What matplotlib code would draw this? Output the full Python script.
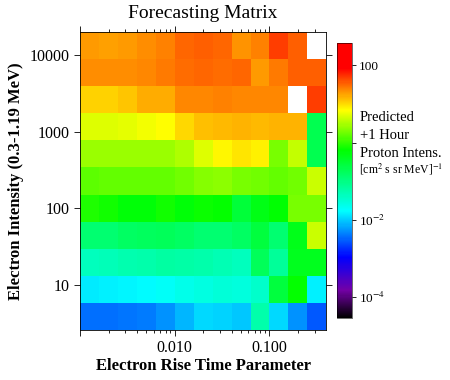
import numpy as np
import matplotlib
matplotlib.use("Agg")
import matplotlib.pyplot as plt
from matplotlib.colors import LinearSegmentedColormap, LogNorm

plt.rcParams["font.family"] = ["Liberation Serif", "DejaVu Serif"]
plt.rcParams["mathtext.fontset"] = "stix"

# bin edges of the forecasting matrix
rise_edges = np.logspace(-3, -0.4, 14)          # electron rise time parameter
intens_edges = np.logspace(0.415, 4.296, 12)    # electron intensity

# log10 of predicted +1 hour proton intensity, top row (highest intensity) first
nan = np.nan
log_flux = [
    [1.29, 1.27, 1.29, 1.34, 1.40, 1.51, 1.55, 1.51, 1.31, 1.40, 1.68, 1.55, nan],
    [1.34, 1.34, 1.34, 1.38, 1.42, 1.47, 1.51, 1.49, 1.51, 1.29, 1.42, 1.55, 1.55],
    [1.04, 1.04, 1.10, 1.19, 1.21, 1.36, 1.38, 1.40, 1.38, 1.38, 1.38, nan, 1.68],
    [0.70, 0.70, 0.74, 0.78, 0.84, 1.02, 1.12, 1.14, 1.17, 1.14, 1.17, 1.17, -0.69],
    [0.42, 0.42, 0.42, 0.42, 0.42, 0.50, 0.70, 0.86, 0.95, 0.89, 0.29, 0.58, -0.69],
    [0.17, 0.21, 0.21, 0.19, 0.21, 0.25, 0.33, 0.37, 0.29, 0.25, 0.21, 0.25, 0.62],
    [-0.07, -0.12, -0.24, -0.24, -0.12, -0.25, -0.16, -0.20, -0.55, -0.33, -0.22, 0.29, 0.29],
    [-0.87, -0.87, -0.81, -0.78, -0.75, -0.81, -0.87, -0.87, -0.81, -0.57, -0.87, -0.35, 0.62],
    [-1.36, -1.33, -1.27, -1.24, -1.18, -1.21, -1.24, -1.30, -1.36, -0.75, -1.12, -0.38, -0.38],
    [-1.86, -1.84, -1.81, -1.76, -1.73, -1.64, -1.58, -1.52, -1.55, -1.43, -0.57, -0.20, -1.84],
    [-2.45, -2.43, -2.40, -2.38, -2.26, -2.10, -1.95, -1.98, -2.03, -1.24, -1.93, -2.26, -2.55],
]

flux = np.ma.masked_invalid(10.0 ** np.array(log_flux)[::-1])

# IDL-like rainbow: black -> purple -> blue -> cyan -> green -> yellow -> red
cmap = LinearSegmentedColormap.from_list("idl_rainbow", [
    (0.00, (0.0, 0.0, 0.0)),
    (0.10, (0.45, 0.0, 0.65)),
    (0.22, (0.0, 0.0, 1.0)),
    (0.39, (0.0, 1.0, 1.0)),
    (0.61, (0.0, 1.0, 0.0)),
    (0.756, (1.0, 1.0, 0.0)),
    (0.836, (1.0, 0.5, 0.0)),
    (0.91, (1.0, 0.0, 0.0)),
    (1.00, (1.0, 0.0, 0.0)),
])
norm = LogNorm(vmin=10 ** -4.54, vmax=10 ** 2.58)

fig = plt.figure(figsize=(4.5, 3.8), dpi=100)
ax = fig.add_axes([0.178, 0.1316, 0.547, 0.784])
mesh = ax.pcolormesh(rise_edges, intens_edges, flux, cmap=cmap, norm=norm)

ax.set_xscale("log")
ax.set_yscale("log")
ax.set_xlim(rise_edges[0], rise_edges[-1])
ax.set_ylim(intens_edges[0], intens_edges[-1])

ax.set_xticks([0.001, 0.01, 0.1])
ax.set_xticklabels(["", "0.010", "0.100"])
ax.set_yticks([10, 100, 1000, 10000])
ax.set_yticklabels(["10", "100", "1000", "10000"])
ax.yaxis.set_minor_locator(matplotlib.ticker.NullLocator())
ax.tick_params(which="both", direction="out", top=True, right=True,
               labelsize=11.5, width=0.6)
ax.tick_params(which="major", length=4)
ax.tick_params(which="minor", length=2.5)
for s in ax.spines.values():
    s.set_linewidth(0.6)

ax.set_title("Forecasting Matrix", fontsize=14, pad=10)
ax.set_xlabel("Electron Rise Time Parameter", fontsize=12, fontweight="bold", labelpad=1)
ax.set_ylabel("Electron Intensity (0.3-1.19 MeV)", fontsize=12, fontweight="bold", labelpad=4)

# colour bar
cax = fig.add_axes([0.749, 0.163, 0.0333, 0.7245])
cb = fig.colorbar(mesh, cax=cax)
cb.set_ticks([1e2, 1, 1e-2, 1e-4])
cb.set_ticklabels(["100", "", r"10$^{-2}$", r"10$^{-4}$"])
cb.ax.minorticks_off()
cb.ax.tick_params(length=3, width=0.6, labelsize=9.5, pad=2)
cb.outline.set_linewidth(0.4)

fig.text(0.80, 0.69, "Predicted", fontsize=10.5, ha="left", va="center")
fig.text(0.80, 0.643, "+1 Hour", fontsize=10.5, ha="left", va="center")
fig.text(0.80, 0.597, "Proton Intens.", fontsize=10.5, ha="left", va="center")
fig.text(0.797, 0.555, r"[cm$^2$ s sr MeV]$^{-1}$", fontsize=8.5, ha="left", va="center")

fig.savefig("out.png", dpi=100)
